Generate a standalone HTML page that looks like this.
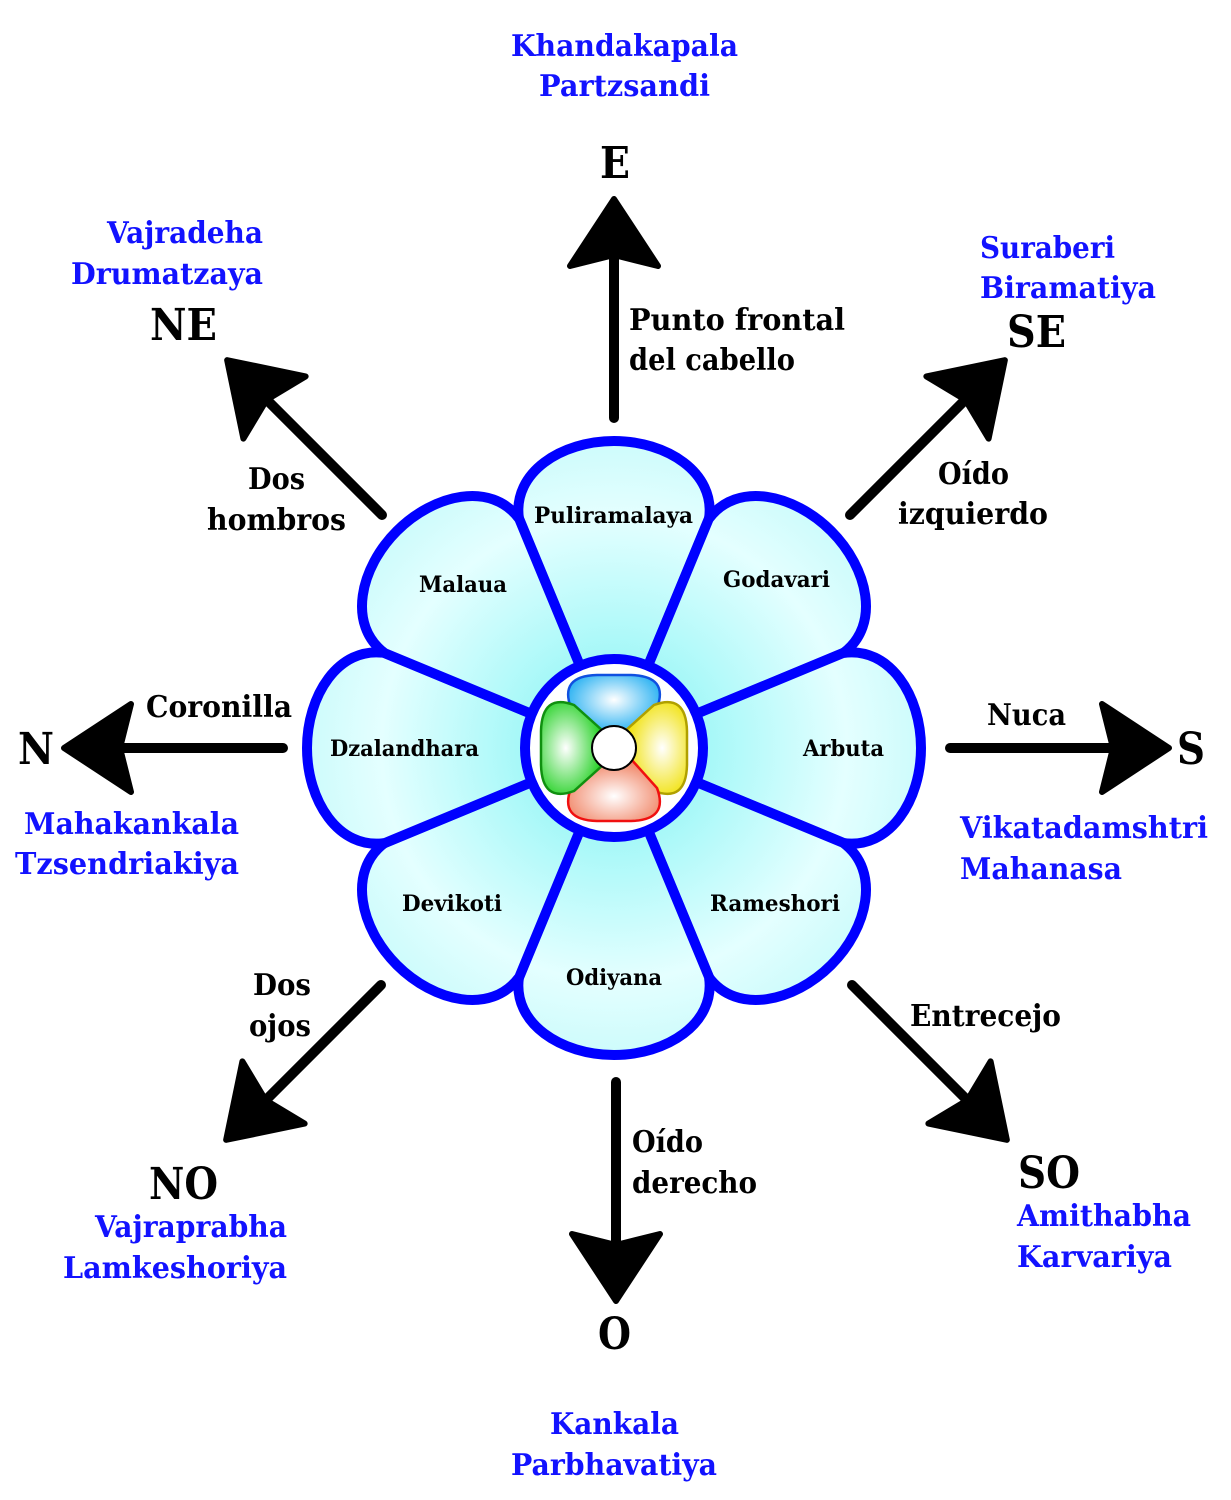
<!DOCTYPE html>
<html><head><meta charset="utf-8"><style>
html,body{margin:0;padding:0;background:#fff}
svg{display:block}
text{font-family:"DejaVu Serif","Liberation Serif",serif;font-weight:bold}
.b{fill:#1212ff;font-size:30px}
.k{fill:#000;font-size:30px}
.d{fill:#000;font-size:44px}
.p{fill:#000;font-size:22px}
</style></head><body>
<svg width="1231" height="1500" viewBox="0 0 1231 1500" xmlns="http://www.w3.org/2000/svg">
<defs>
<radialGradient id="g" gradientUnits="userSpaceOnUse" cx="614" cy="748" r="310">
<stop offset="0.3" stop-color="#a6f8f8"/><stop offset="0.75" stop-color="#e4ffff"/><stop offset="1" stop-color="#ccfbfb"/>
</radialGradient>
<radialGradient id="gb" cx="0.5" cy="0.4" r="0.6"><stop offset="0" stop-color="#fff"/><stop offset="1" stop-color="#10a8f0"/></radialGradient>
<radialGradient id="gy" cx="0.5" cy="0.4" r="0.6"><stop offset="0" stop-color="#fff"/><stop offset="1" stop-color="#f0e000"/></radialGradient>
<radialGradient id="gr" cx="0.5" cy="0.4" r="0.6"><stop offset="0" stop-color="#fff"/><stop offset="1" stop-color="#f08060"/></radialGradient>
<radialGradient id="gg" cx="0.5" cy="0.4" r="0.6"><stop offset="0" stop-color="#fff"/><stop offset="1" stop-color="#20d020"/></radialGradient>
<g id="arr">
<line x1="0" y1="0" x2="170" y2="0" stroke="#000" stroke-width="10" stroke-linecap="round"/>
<polygon points="219,0 152,-44 163,0 152,44" fill="#000" stroke="#000" stroke-width="6" stroke-linejoin="round"/>
</g>
<path id="pet" d="M614,748 L519,519 C512,472 562,441 614,441 C666,441 716,472 709,519 Z"/>
<path id="lobe" d="M597,737 L571,708 Q559,676 597,675 L631,675 Q669,676 657,708 L631,737 Z"/>
</defs>

<use href="#arr" transform="translate(614,418) rotate(-90)"/>
<use href="#arr" transform="translate(950,748)"/>
<use href="#arr" transform="translate(616,1082) rotate(90)"/>
<use href="#arr" transform="translate(283,748) rotate(180)"/>
<use href="#arr" transform="translate(382,515) rotate(-135)"/>
<use href="#arr" transform="translate(850,515) rotate(-45)"/>
<use href="#arr" transform="translate(381,985) rotate(135)"/>
<use href="#arr" transform="translate(852,985) rotate(45)"/>

<g fill="url(#g)" stroke="#0000ff" stroke-width="10" stroke-linejoin="round">
<use href="#pet"/>
<use href="#pet" transform="rotate(45 614 748)"/>
<use href="#pet" transform="rotate(90 614 748)"/>
<use href="#pet" transform="rotate(135 614 748)"/>
<use href="#pet" transform="rotate(180 614 748)"/>
<use href="#pet" transform="rotate(225 614 748)"/>
<use href="#pet" transform="rotate(270 614 748)"/>
<use href="#pet" transform="rotate(315 614 748)"/>
</g>
<circle cx="614" cy="748" r="89" fill="#fff" stroke="#0000ff" stroke-width="10"/>
<g stroke-width="2.5">
<use href="#lobe" fill="url(#gb)" stroke="#1050e0"/>
<use href="#lobe" fill="url(#gy)" stroke="#b0a000" transform="rotate(90 614 748)"/>
<use href="#lobe" fill="url(#gr)" stroke="#f01010" transform="rotate(180 614 748)"/>
<use href="#lobe" fill="url(#gg)" stroke="#109010" transform="rotate(270 614 748)"/>
</g>
<circle cx="614" cy="748" r="22" fill="#fff" stroke="#000" stroke-width="2"/>

<text class="p" x="534" y="523" textLength="159" lengthAdjust="spacingAndGlyphs">Puliramalaya</text>
<text class="p" x="419" y="592" textLength="88" lengthAdjust="spacingAndGlyphs">Malaua</text>
<text class="p" x="723" y="587" textLength="107" lengthAdjust="spacingAndGlyphs">Godavari</text>
<text class="p" x="330" y="756" textLength="149" lengthAdjust="spacingAndGlyphs">Dzalandhara</text>
<text class="p" x="803" y="756" textLength="81" lengthAdjust="spacingAndGlyphs">Arbuta</text>
<text class="p" x="402" y="911" textLength="100" lengthAdjust="spacingAndGlyphs">Devikoti</text>
<text class="p" x="710" y="911" textLength="130" lengthAdjust="spacingAndGlyphs">Rameshori</text>
<text class="p" x="566" y="985" textLength="96" lengthAdjust="spacingAndGlyphs">Odiyana</text>

<text class="b" x="511" y="56" textLength="227" lengthAdjust="spacingAndGlyphs">Khandakapala</text>
<text class="b" x="539" y="96" textLength="171" lengthAdjust="spacingAndGlyphs">Partzsandi</text>
<text class="d" x="600" y="178" textLength="30" lengthAdjust="spacingAndGlyphs">E</text>
<text class="k" x="629" y="330" textLength="216" lengthAdjust="spacingAndGlyphs">Punto frontal</text>
<text class="k" x="629" y="370" textLength="166" lengthAdjust="spacingAndGlyphs">del cabello</text>
<text class="b" x="107" y="243" textLength="156" lengthAdjust="spacingAndGlyphs">Vajradeha</text>
<text class="b" x="71" y="284" textLength="192" lengthAdjust="spacingAndGlyphs">Drumatzaya</text>
<text class="d" x="150" y="340" textLength="67" lengthAdjust="spacingAndGlyphs">NE</text>
<text class="k" x="248" y="489" textLength="57" lengthAdjust="spacingAndGlyphs">Dos</text>
<text class="k" x="207" y="530" textLength="139" lengthAdjust="spacingAndGlyphs">hombros</text>
<text class="b" x="980" y="258" textLength="135" lengthAdjust="spacingAndGlyphs">Suraberi</text>
<text class="b" x="980" y="298" textLength="176" lengthAdjust="spacingAndGlyphs">Biramatiya</text>
<text class="d" x="1007" y="347" textLength="59" lengthAdjust="spacingAndGlyphs">SE</text>
<text class="k" x="938" y="484" textLength="71" lengthAdjust="spacingAndGlyphs">Oído</text>
<text class="k" x="898" y="524" textLength="150" lengthAdjust="spacingAndGlyphs">izquierdo</text>
<text class="d" x="18" y="764" textLength="36" lengthAdjust="spacingAndGlyphs">N</text>
<text class="k" x="146" y="717" textLength="146" lengthAdjust="spacingAndGlyphs">Coronilla</text>
<text class="b" x="24" y="834" textLength="215" lengthAdjust="spacingAndGlyphs">Mahakankala</text>
<text class="b" x="15" y="874" textLength="224" lengthAdjust="spacingAndGlyphs">Tzsendriakiya</text>
<text class="d" x="1177" y="764" textLength="28" lengthAdjust="spacingAndGlyphs">S</text>
<text class="k" x="987" y="725" textLength="79" lengthAdjust="spacingAndGlyphs">Nuca</text>
<text class="b" x="960" y="838" textLength="248" lengthAdjust="spacingAndGlyphs">Vikatadamshtri</text>
<text class="b" x="960" y="879" textLength="162" lengthAdjust="spacingAndGlyphs">Mahanasa</text>
<text class="k" x="253" y="995" textLength="58" lengthAdjust="spacingAndGlyphs">Dos</text>
<text class="k" x="249" y="1036" textLength="62" lengthAdjust="spacingAndGlyphs">ojos</text>
<text class="d" x="149" y="1199" textLength="69" lengthAdjust="spacingAndGlyphs">NO</text>
<text class="b" x="95" y="1237" textLength="192" lengthAdjust="spacingAndGlyphs">Vajraprabha</text>
<text class="b" x="63" y="1278" textLength="224" lengthAdjust="spacingAndGlyphs">Lamkeshoriya</text>
<text class="k" x="910" y="1026" textLength="151" lengthAdjust="spacingAndGlyphs">Entrecejo</text>
<text class="d" x="1018" y="1188" textLength="62" lengthAdjust="spacingAndGlyphs">SO</text>
<text class="b" x="1017" y="1226" textLength="174" lengthAdjust="spacingAndGlyphs">Amithabha</text>
<text class="b" x="1017" y="1267" textLength="155" lengthAdjust="spacingAndGlyphs">Karvariya</text>
<text class="k" x="632" y="1152" textLength="71" lengthAdjust="spacingAndGlyphs">Oído</text>
<text class="k" x="632" y="1193" textLength="125" lengthAdjust="spacingAndGlyphs">derecho</text>
<text class="d" x="598" y="1349" textLength="33" lengthAdjust="spacingAndGlyphs">O</text>
<text class="b" x="550" y="1434" textLength="129" lengthAdjust="spacingAndGlyphs">Kankala</text>
<text class="b" x="511" y="1475" textLength="206" lengthAdjust="spacingAndGlyphs">Parbhavatiya</text>
</svg>
</body></html>
